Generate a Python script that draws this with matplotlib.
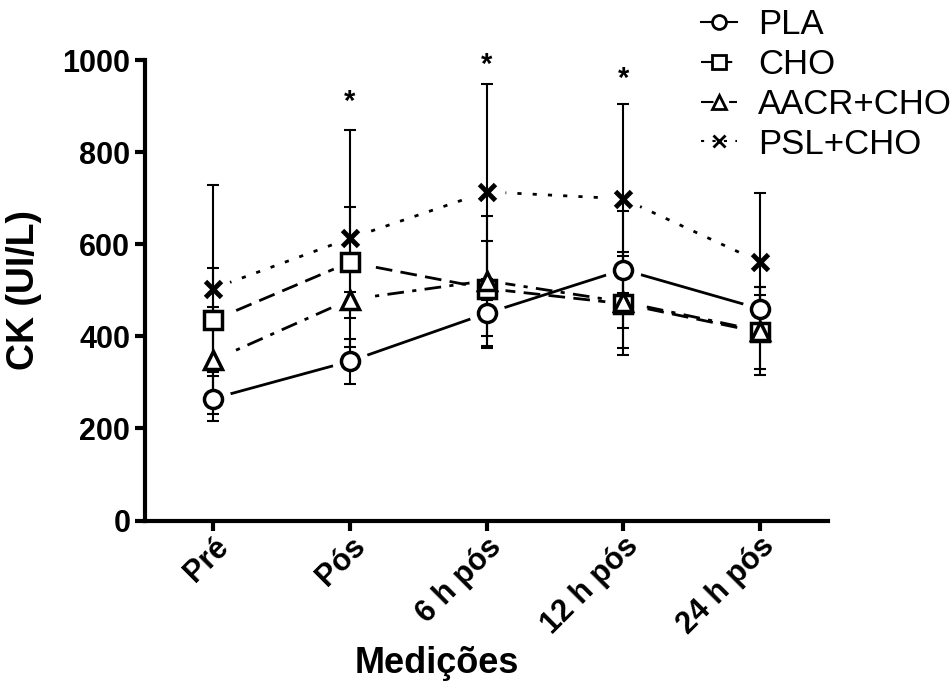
import numpy as np
import matplotlib
matplotlib.use('Agg')
import matplotlib.pyplot as plt

plt.rcParams['font.family'] = ['Liberation Sans', 'DejaVu Sans']

moments = ['Pré', 'Pós', '6 h pós', '12 h pós', '24 h pós']

pla_mean = [265, 346, 450, 545, 460]
pla_sd = [48, 49, 75, 127, 47]
cho_mean = [435, 561, 504, 471, 409]
cho_sd = [113, 120, 103, 112, 80]
aacr_mean = [348, 480, 521, 475, 412]
aacr_sd = [116, 17, 141, 100, 95]
psl_mean = [504, 613, 714, 699, 562]
psl_sd = [224, 235, 235, 205, 150]

star_pos = [1, 2, 3]
star_y = [910, 990, 960]

series = [
    ('PLA', pla_mean, pla_sd, 'o', '-'),
    ('CHO', cho_mean, cho_sd, 's', (0, (6, 3))),
    ('AACR+CHO', aacr_mean, aacr_sd, '^', (0, (6, 3, 1.5, 3))),
    ('PSL+CHO', psl_mean, psl_sd, 'x', (0, (1.5, 4))),
]

fig = plt.figure(figsize=(9.53, 6.84), dpi=100)
ax = fig.add_axes([0.152, 0.239, 0.717, 0.673])
x = np.arange(len(moments))

handles = []
for name, m, sd, mk, ls in series:
    # connecting line
    ax.plot(x, m, color='black', lw=2, linestyle=ls, zorder=1)
    # white halo to leave a gap between line and symbol
    ax.plot(x, m, linestyle='none', marker='o', ms=26, mfc='white', mec='none', zorder=2)
for name, m, sd, mk, ls in series:
    ax.errorbar(x, m, yerr=sd, fmt='none', ecolor='black', elinewidth=1.5,
                capsize=4, capthick=1.5, zorder=3)
for name, m, sd, mk, ls in series:
    mew = 3.5 if mk == 'x' else 2.5
    ax.plot(x, m, linestyle='none', marker=mk, ms=13 if mk != 'x' else 11,
            mfc='white', mec='black', mew=mew, zorder=4)
    h, = ax.plot([], [], color='black', lw=1.5, linestyle=ls, marker=mk,
                 ms=10 if mk != 'x' else 8, mfc='white', mec='black', mew=2)
    handles.append(h)

for p, yv in zip(star_pos, star_y):
    ax.text(p, yv, '*', ha='center', va='center', fontsize=21, fontweight='bold')

ax.set_xlim(-0.5, 4.5)
ax.set_ylim(0, 1000)
ax.set_yticks([0, 200, 400, 600, 800, 1000])
ax.set_xticks(x)
ax.set_xticklabels(moments, rotation=45, ha='right', rotation_mode='anchor')
ax.tick_params(axis='both', direction='out', length=7, width=3, labelsize=22)
ax.tick_params(axis='x', pad=1)
for lab in ax.get_xticklabels() + ax.get_yticklabels():
    lab.set_fontweight('bold')
for s in ['top', 'right']:
    ax.spines[s].set_visible(False)
for s in ['left', 'bottom']:
    ax.spines[s].set_linewidth(3)

ax.set_ylabel('CK (UI/L)', fontsize=27, fontweight='bold')
ax.yaxis.set_label_coords(-0.151, 0.5)
ax.set_xlabel('Medições', fontsize=26, fontweight='bold')
ax.xaxis.set_label_coords(0.428, -0.272)

fig.legend(handles, [s[0] for s in series], loc='upper left',
           bbox_to_anchor=(0.717, 1.014), frameon=False, fontsize=25,
           borderpad=0, handlelength=1.05, handletextpad=0.6, labelspacing=0.2)

fig.savefig('out.png', dpi=100)
